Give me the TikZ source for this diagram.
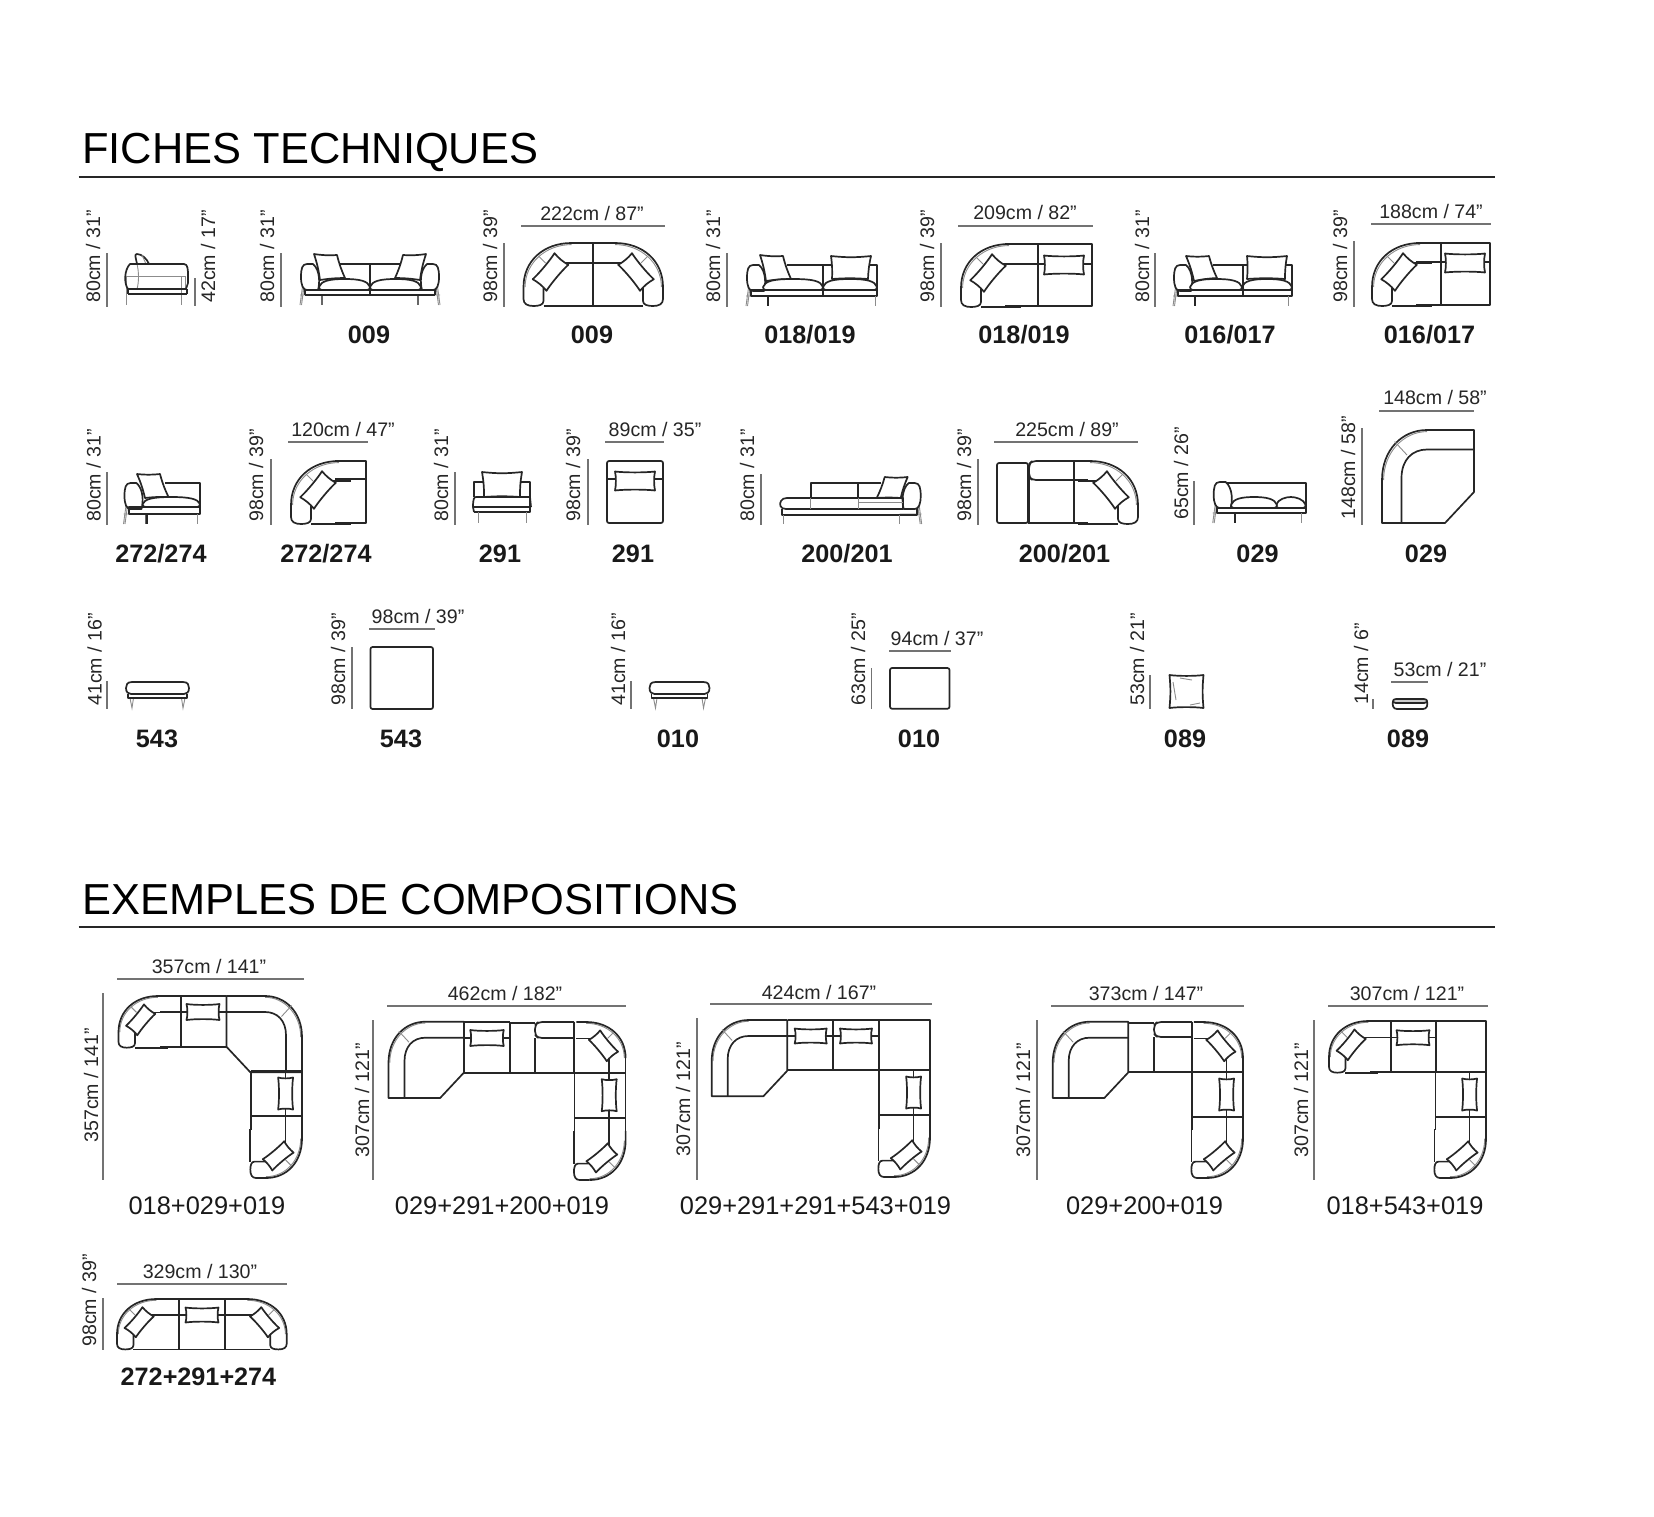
\documentclass[tikz,border=0pt]{standalone}
\usepackage{fontspec}
\setmainfont{Liberation Sans}
\usetikzlibrary{positioning}

\tikzset{
    fur/.style={draw=black!85, line width=0.85pt, line join=round},
    fine/.style={draw=black!45, line width=0.45pt},
    dimline/.style={draw=black!55, line width=0.7pt},
    headline/.style={draw=black!85, line width=1pt},
    headtext/.style={font=\fontsize{21.7}{24}\selectfont, anchor=base west, inner sep=0pt},
    dimtext/.style={font=\fontsize{9.8}{11}\selectfont, color=black!85, inner sep=0pt},
    codetext/.style={font=\fontsize{12.6}{14}\selectfont\bfseries, color=black!90, inner sep=0pt},
    comptext/.style={font=\fontsize{12.7}{14}\selectfont, color=black!90, inner sep=0pt}
}

% dimension lines with their text
\newcommand{\vdim}[7]{
    \draw[dimline] (#2,#3) -- (#2,#4);
    \node[dimtext, rotate=90, anchor=west] at (#5,#6) (#1) {#7};
}
\newcommand{\hdim}[7]{
    \draw[dimline] (#2,#4) -- (#3,#4);
    \node[dimtext] at (#5,#6) (#1) {#7};
}

% cushions
\newcommand{\pillow}[5]{
    \begin{scope}[shift={(#1,#2)}, rotate=#3]
        \pgfmathsetmacro{\pw}{#4/2}
        \pgfmathsetmacro{\ph}{#5/2}
        \pgfmathsetmacro{\pqw}{#4/4}
        \pgfmathsetmacro{\pbh}{\ph-1.2}
        \pgfmathsetmacro{\pbw}{\pw-1.2}
        \draw[fur, fill=white] (-\pw,-\ph) .. controls (-\pqw,-\pbh) and (\pqw,-\pbh) .. (\pw,-\ph)
            .. controls (\pbw,-\pqw*0.4) and (\pbw,\pqw*0.4) .. (\pw,\ph)
            .. controls (\pqw,\pbh) and (-\pqw,\pbh) .. (-\pw,\ph)
            .. controls (-\pbw,\pqw*0.4) and (-\pbw,-\pqw*0.4) .. cycle;
    \end{scope}
}
\newcommand{\quadpillow}[8]{
    \draw[fur, fill=white] (#1,#2) to[bend right=6] (#3,#4) to[bend right=5] (#5,#6)
        to[bend right=4] (#7,#8) to[bend right=5] cycle;
}
\newcommand{\seat}[4]{
    \draw[fur, fill=white] (#1,#4-3) .. controls (#1+2,#3+2) and (#1+10,#3) .. ({(#1+#2)/2},#3)
        .. controls (#2-10,#3) and (#2-2,#3+2) .. (#2,#4-3)
        .. controls (#2,#4-1) and (#2-1,#4) .. (#2-3,#4) -- (#1+3,#4)
        .. controls (#1+1,#4) and (#1,#4-1) .. cycle;
}

% plan view: rounded back corner of an arm
\newcommand{\armarc}{
    \draw[fine] (48,1.6) .. controls (22,1.6) and (1.6,20) .. (1.6,44);
    \draw[fur] (60,0) -- (48,0) .. controls (20,0) and (0,18) .. (0,44);
    \draw[fine] (15,13) -- (22,20);
    \draw[fur] (30,20) -- (60,20);
}
\newcommand{\armplan}[1]{
    \begin{scope}[#1]
        \armarc
        \draw[fur] (0,44) -- (0,56) .. controls (0,61) and (4,63) .. (10,63)
            .. controls (15,63) and (20,62) .. (20,58) -- (20,45);
        \draw[fur] (20,63) -- (60,63);
        \pillow{27}{29}{50}{34}{18}
    \end{scope}
}
\newcommand{\armjoin}[1]{
    \begin{scope}[#1]
        \armarc
        \draw[fur] (0,44) -- (0,63);
        \draw[fur] (20,45) -- (20,63);
        \pillow{27}{29}{50}{34}{18}
    \end{scope}
}
% plan view: module 029
\newcommand{\cornerplan}[1]{
    \begin{scope}[#1]
        \draw[fine] (45,1.6) .. controls (22,1.6) and (1.6,22) .. (1.6,50);
        \draw[fur] (92,0) -- (45,0) .. controls (20,0) and (0,20) .. (0,50) -- (0,93)
            -- (63,93) -- (92,62) -- cycle;
        \draw[fur] (92,19.5) -- (45,19.5) .. controls (30,19.5) and (19.5,30) .. (19.5,48) -- (19.5,93);
        \draw[fine] (12.6,11.6) -- (25,25);
    \end{scope}
}
% plan view: the part that runs down on the right of a composition
\newcommand{\returnplan}[4]{
    \draw[fur] (#1,#3) -- (#2,#3) (#1,#3) -- (#1,#4-48) (#2,#3) -- (#2,#4-48);
    \draw[fur] (#1,#3+45) -- (#2,#3+45);
    \draw[fur] (#2-16.4,#3) -- (#2-16.4,#4-48);
    \pillow{#2-16.4}{#3+22.5}{90}{32}{15}
    \armplan{shift={(#2,#4)}, rotate=-90, xscale=-0.82, yscale=0.82}
}
% front view: arm, frame and leg
\newcommand{\elevarm}[2]{
    \begin{scope}[#1]
        \draw[fine] (3,-22) -- (0,0) (4.5,-22) -- (1.5,0) (0,-10) -- (22,-10);
        \draw[draw=black!60, line width=0.6pt] (22,-10) -- (22,0);
        \draw[fur, fill=white] (7,-41) .. controls (2,-41) and (1,-36) .. (1,-28)
            .. controls (1,-20) and (3,-15) .. (7,-15) -- (18,-15)
            .. controls (20,-22) and (20,-35) .. (13,-41) -- cycle;
        #2
    \end{scope}
}
\newcommand{\tiltpillow}{\quadpillow{14}{-51}{37}{-50}{45}{-27}{20}{-25}}
\newcommand{\ottoman}[2]{
    \draw[fine] (#1+4,698) -- (#1+6,708) -- (#1+7.5,698) (#2-4,698) -- (#2-6,708) -- (#2-7.5,698);
    \draw[fur] (#1+2,694) -- (#1+2,698) -- (#2-2,698) -- (#2-2,694);
    \draw[fur, fill=white] (#1+6,682) -- (#2-6,682) .. controls (#2-1,682) and (#2,685) .. (#2,688)
        .. controls (#2,692) and (#2-2,694) .. (#2-5,694) -- (#1+5,694)
        .. controls (#1+2,694) and (#1,692) .. (#1,688) .. controls (#1,685) and (#1+1,682) .. cycle;
}

\begin{document}
\begin{tikzpicture}[x=0.5pt, y=-0.5pt]
    \useasboundingbox (0,0) rectangle (1654,1516);

    % headings
    \node[headtext] at (82,163) (fiches) {FICHES TECHNIQUES};
    \draw[headline] (78.5,177) -- (1494.5,177);
    \node[headtext] at (82,914) (exemples) {EXEMPLES DE COMPOSITIONS};
    \draw[headline] (78.5,927) -- (1494.5,927);

    % ---- first row
    \vdim{da}{107}{253}{307}{93}{303}{80cm / 31"}
    \vdim{db}{195}{278}{306}{208}{303}{42cm / 17"}
    \draw[fine] (126,276) -- (126,305) (181,276) -- (181,305) (126,276) -- (185,276) (185,276) -- (185,289);
    \draw[fur] (137,264) .. controls (136,258) and (134,254) .. (137,254) .. controls (142,254) and (147,259) .. (149,264);
    \draw[fine] (142,255) -- (146,264);
    \draw[fine] (137,264) .. controls (139,272) and (139,282) .. (137,289);
    \draw[fur] (128,289) -- (187,289) (128,294) -- (187,294) (128,289) -- (128,294) (187,289) -- (187,294);
    \draw[fur] (128,289) .. controls (124,284) and (124,270) .. (130,264) -- (184,264)
        .. controls (188,264) and (188,270) .. (188,276) -- (188,283) -- (186,289);

    \vdim{dc}{281}{253}{307}{267}{303}{80cm / 31"}
    \elevarm{shift={(300,305)}}{\tiltpillow}
    \elevarm{shift={(440,305)}, xscale=-1}{\tiltpillow}
    \draw[fur] (339,264) -- (401,264);
    \draw[fur] (305,290) -- (435,290) (305,295) -- (435,295) (305,290) -- (305,295) (435,290) -- (435,295);
    \seat{319}{370}{279}{290}
    \seat{370}{421}{279}{290}
    \draw[fur] (370,264) -- (370,295);
    \node[codetext] at (369,335) (cb) {009};

    \vdim{dd}{504}{243}{307}{490}{303}{98cm / 39"}
    \hdim{de}{521}{665}{226}{592}{213}{222cm / 87"}
    \armplan{shift={(523.5,243)}}
    \armplan{shift={(663,243)}, xscale=-1}
    \draw[fur] (583,243) -- (603,243) (583,263) -- (603,263) (583,306) -- (603,306) (593,243) -- (593,306);
    \node[codetext] at (592,335) (cc) {009};

    \vdim{df}{727}{253}{307}{713}{303}{80cm / 31"}
    \elevarm{shift={(746,306)}}{\tiltpillow}
    \draw[fur] (787,265) -- (877,265) -- (877,296) -- (751,296) -- (751,290) -- (877,290) (768,296) -- (768,306);
    \quadpillow{831}{256}{871}{256}{868}{279}{832}{279}
    \seat{763}{823}{279}{290}
    \seat{823}{877}{279}{290}
    \draw[fur] (823,265) -- (823,296);
    \draw[fine] (875,296) -- (875,306);
    \node[codetext] at (810,335) (cd) {018/019};

    \vdim{dg}{941}{243}{307}{927}{303}{98cm / 39"}
    \hdim{dh}{958}{1093}{226}{1025}{212}{209cm / 82"}
    \armplan{shift={(961,244)}}
    \draw[fur] (1005,244) -- (1092,244) -- (1092,306) -- (1005,306) (1038,244) -- (1038,306) (1005,264) -- (1092,264);
    \pillow{1064}{265}{0}{40}{19}
    \node[codetext] at (1024,335) (ce) {018/019};

    \vdim{di}{1155}{253}{307}{1142}{303}{80cm / 31"}
    \elevarm{shift={(1173,306)}}{\quadpillow{13}{-50}{36}{-50}{44}{-28}{21}{-25}}
    \draw[fur] (1213,265) -- (1292,265) -- (1292,296) -- (1178,296) -- (1178,290) -- (1292,290) (1195,296) -- (1195,306);
    \quadpillow{1247}{256}{1287}{256}{1285}{279}{1247}{279}
    \seat{1190}{1242}{279}{290}
    \seat{1242}{1292}{279}{290}
    \draw[fur] (1243,265) -- (1243,296);
    \draw[fine] (1288,296) -- (1288,306);
    \node[codetext] at (1230,335) (cf) {016/017};

    \vdim{dj}{1354}{241}{307}{1340}{303}{98cm / 39"}
    \hdim{dk}{1371}{1491}{224}{1431}{211}{188cm / 74"}
    \armplan{shift={(1372,243)}}
    \draw[fur] (1416,243) -- (1490,243) -- (1490,305) -- (1416,305) (1441,243) -- (1441,305) (1416,262) -- (1490,262);
    \pillow{1465}{263}{0}{40}{19}
    \node[codetext] at (1429.5,335) (cg) {016/017};

    % ---- second row
    \vdim{dl}{107}{472}{525}{93.5}{522}{80cm / 31"}
    \elevarm{shift={(123.5,524)}}{\quadpillow{13.5}{-50}{36.5}{-50}{45}{-27}{21.5}{-26}}
    \draw[fur] (165,483) -- (200,483) -- (200,514) -- (129,514) -- (129,507) -- (200,507) (147,514) -- (147,524);
    \seat{142.6}{200}{497}{507}
    \draw[fine] (197.5,514) -- (197.5,524);
    \node[codetext] at (161,554) (ch) {272/274};

    \vdim{dm}{271}{459}{525}{256}{522}{98cm / 39"}
    \hdim{dn}{288}{368}{442}{343}{429}{120cm / 47"}
    \armplan{shift={(291,461)}}
    \draw[fur] (335,461) -- (366,461) -- (366,523) -- (335,523) (335,479) -- (366,479);
    \node[codetext] at (326,554) (ci) {272/274};

    \vdim{do}{455}{472}{525}{441}{522}{80cm / 31"}
    \draw[fur] (474,497) -- (474,482) -- (530,482) -- (530,497);
    \quadpillow{482}{472}{522}{472}{520}{497}{484}{497}
    \draw[fur] (474,512) -- (530,512) -- (530,497) .. controls (529,497) and (526,497) .. (520,497) -- (484,497) -- (476,497) .. controls (474,497) and (473,499) .. (473,507) -- (474,512);
    \draw[fur] (473,507) -- (531,507) (531,507) -- (530,497);
    \draw[fine] (478,512) -- (478,523) (526,512) -- (526,523);
    \node[codetext] at (500,554) (cj) {291};

    \vdim{dp}{588}{459}{525}{573}{522}{98cm / 39"}
    \hdim{dq}{605}{664}{442}{655}{429}{89cm / 35"}
    \draw[fur, rounded corners=1pt] (607,461) rectangle (663,523);
    \draw[fur] (607,479) -- (663,479);
    \pillow{635}{481}{0}{40}{19}
    \node[codetext] at (633,554) (ck) {291};

    \vdim{dr}{761}{474}{525}{747}{522}{80cm / 31"}
    \elevarm{shift={(921.7,524)}, xscale=-1}{\quadpillow{14}{-47}{37}{-47}{45}{-26}{21}{-26}}
    \draw[fur] (881,483) -- (810.7,483) -- (810.7,498) (858,483) -- (858,498);
    \draw[fur] (787,498) -- (876,498) -- (903,498) -- (903,509) -- (786,509)
        .. controls (780,509) and (779,504) .. (781,501) .. controls (782,499) and (784,498) .. (787,498);
    \draw[fur] (781.7,509) -- (781.7,515) -- (916.7,515) -- (916.7,509);
    \draw[fine] (810.7,498) -- (810.7,509) (858,498) -- (858,509) (858,502.7) -- (903,502.7);
    \draw[fine] (783,515) -- (783,524) (899,515) -- (899,524);
    \node[codetext] at (847,554) (cl) {200/201};

    \vdim{ds}{978}{459}{525}{964}{522}{98cm / 39"}
    \hdim{dt}{994}{1138}{442}{1067}{429}{225cm / 89"}
    \armplan{shift={(1138,461)}, xscale=-1}
    \draw[fur, rounded corners=1pt] (997,463) rectangle (1028,523);
    \draw[fur, rounded corners=2pt] (1074,480) -- (1032,480) -- (1029,477) -- (1029,464) -- (1032,461) -- (1074,461);
    \draw[fur] (1074,461) -- (1088,461) (1074,480) -- (1088,480) (1074,461) -- (1074,523) (1028,523) -- (1088,523) (1029,477) -- (1029,523);
    \node[codetext] at (1064.5,554) (cm) {200/201};

    \vdim{du}{1194}{481}{525}{1181}{520}{65cm / 26"}
    \elevarm{shift={(1212.7,523)}}{}
    \draw[fur] (1227,483) -- (1305.7,483) -- (1305.7,513) -- (1217,513) -- (1217,508) -- (1305.7,508) (1235,513) -- (1235,523);
    \seat{1276}{1305.7}{497}{508}
    \seat{1231}{1277}{497}{508}
    \draw[fine] (1301.7,513) -- (1301.7,523);
    \node[codetext] at (1257.5,554) (cn) {029};

    \vdim{dv}{1362}{428}{525}{1348}{520}{148cm / 58"}
    \hdim{dw}{1379}{1474}{411}{1435}{397}{148cm / 58"}
    \cornerplan{shift={(1382,430)}}
    \node[codetext] at (1426,554) (co) {029};

    % ---- third row
    \vdim{dx}{107}{681}{709}{94.5}{706}{41cm / 16"}
    \ottoman{126}{189}
    \node[codetext] at (157,738.5) (cp) {543};

    \vdim{dy}{352}{647}{709}{338}{706}{98cm / 39"}
    \hdim{dz}{369}{435}{629}{418}{616}{98cm / 39"}
    \draw[fur, rounded corners=1pt] (370.5,647) rectangle (433,709);
    \node[codetext] at (401,738.5) (cq) {543};

    \vdim{ea}{631}{681}{709}{618}{706}{41cm / 16"}
    \ottoman{649.5}{709.5}
    \node[codetext] at (678,738.5) (cr) {010};

    \vdim{eb}{871.5}{668}{709}{858}{706}{63cm / 25"}
    \hdim{ec}{889}{950.5}{651}{937}{638}{94cm / 37"}
    \draw[fur, rounded corners=1pt] (890,668) rectangle (949.5,708.7);
    \node[codetext] at (919,738.5) (cs) {010};

    \vdim{ed}{1150}{675}{709}{1137}{706}{53cm / 21"}
    \pillow{1186.5}{691.5}{0}{34}{33}
    \draw[fine] (1173,682) -- (1176,700) (1190,705) -- (1200,703) (1180,678) -- (1192,680);
    \node[codetext] at (1185,738.5) (ct) {089};

    \vdim{ee}{1373}{699}{709}{1361}{705}{14cm / 6"}
    \hdim{ef}{1391}{1428}{682}{1440}{669}{53cm / 21"}
    \draw[fur, fill=black!20] (1396,699) -- (1424,699) .. controls (1428,699) and (1428,703) .. (1424,703) -- (1396,703)
        .. controls (1392,703) and (1392,699) .. cycle;
    \draw[fur] (1393,701) .. controls (1392,705) and (1393,709) .. (1397,709) -- (1423,709)
        .. controls (1427,709) and (1428,705) .. (1427,701);
    \node[codetext] at (1408,738.5) (cu) {089};

    % ---- compositions
    \hdim{fa}{117}{304}{979}{209}{966}{357cm / 141"}
    \vdim{fb}{103}{993}{1180}{91}{1143}{357cm / 141"}
    \armplan{shift={(118.5,996)}, xscale=0.82, yscale=0.82}
    \draw[fur] (160,996) -- (226,996) (160,1012) -- (226,1012) (160,1047) -- (226,1047) (181,996) -- (181,1047);
    \pillow{203}{1012}{0}{33}{16}
    \cornerplan{shift={(302,996)}, xscale=-0.82, yscale=0.82}
    \returnplan{251}{302}{1071}{1178}
    \node[comptext] at (207,1206) (ga) {018+029+019};

    \hdim{fc}{387}{626}{1006}{505}{993}{462cm / 182"}
    \vdim{fd}{373}{1020}{1180}{362}{1158}{307cm / 121"}
    \cornerplan{shift={(388.5,1021.7)}, xscale=0.82, yscale=0.82}
    \draw[fur] (464,1022) -- (510,1022) (510,1023) -- (535,1023) (464,1038) -- (510,1038) (464,1072.7) -- (575,1072.7) (510,1022) -- (510,1072.7) (535,1038) -- (535,1072.7);
    \pillow{487}{1038}{0}{33.5}{16}
    \draw[fur, rounded corners=2pt] (574,1038) -- (538,1038) -- (535,1035) -- (535,1025) -- (538,1022) -- (574,1022);
    \draw[fur] (574,1022) -- (574,1072.7);
    \armjoin{shift={(625.6,1022)}, xscale=-0.82, yscale=0.82}
    \returnplan{574.6}{625.6}{1072.7}{1180}
    \node[comptext] at (502,1206) (gb) {029+291+200+019};

    \hdim{fe}{710}{932}{1004}{819}{992}{424cm / 167"}
    \vdim{ff}{697}{1018}{1180}{683}{1157}{307cm / 121"}
    \cornerplan{shift={(711.7,1020)}, xscale=0.82, yscale=0.82}
    \draw[fur] (787.7,1020) -- (930,1020) -- (930,1070) -- (787.7,1070) (833.3,1020) -- (833.3,1070) (879.3,1020) -- (879.3,1070) (787.7,1036) -- (879.3,1036);
    \pillow{810.7}{1036}{0}{32}{15}
    \pillow{856}{1036}{0}{32}{15}
    \returnplan{879}{930}{1070}{1177}
    \node[comptext] at (815.5,1206) (gc) {029+291+291+543+019};

    \hdim{fg}{1051}{1244}{1006}{1146}{993}{373cm / 147"}
    \vdim{fh}{1037}{1020}{1180}{1023}{1158}{307cm / 121"}
    \cornerplan{shift={(1052.7,1021.7)}, xscale=0.82, yscale=0.82}
    \draw[fur] (1128,1023) -- (1154,1023) (1128,1072) -- (1243,1072) (1154,1037) -- (1154,1072);
    \draw[fur, rounded corners=2pt] (1192,1037) -- (1157,1037) -- (1154,1034) -- (1154,1025) -- (1157,1022) -- (1192,1022);
    \draw[fur] (1192,1022) -- (1192,1072);
    \armjoin{shift={(1243,1022)}, xscale=-0.82, yscale=0.82}
    \returnplan{1192}{1243}{1072}{1178}
    \node[comptext] at (1144.5,1206) (gd) {029+200+019};

    \hdim{fi}{1328}{1488}{1006}{1407}{993}{307cm / 121"}
    \vdim{fj}{1314}{1020}{1180}{1301}{1158}{307cm / 121"}
    \armplan{shift={(1329,1021)}, xscale=0.82, yscale=0.82}
    \draw[fur] (1370,1021) -- (1486,1021) -- (1486,1072) -- (1370,1072) (1391,1021) -- (1391,1072) (1436,1021) -- (1436,1072) (1370,1037.4) -- (1436,1037.4);
    \pillow{1413}{1037.7}{0}{33}{15}
    \returnplan{1435.6}{1486}{1072}{1178}
    \node[comptext] at (1405,1206) (ge) {018+543+019};

    \hdim{fk}{117}{287}{1284}{200}{1271}{329cm / 130"}
    \vdim{fl}{103}{1298}{1350}{89}{1347}{98cm / 39"}
    \armplan{shift={(117,1299)}, xscale=0.82, yscale=0.80}
    \armplan{shift={(286.7,1299)}, xscale=-0.82, yscale=0.80}
    \draw[fur] (165,1299) -- (240,1299) (165,1315) -- (240,1315) (165,1349.4) -- (240,1349.4) (179,1299) -- (179,1349.4) (225,1299) -- (225,1349.4);
    \pillow{202}{1315}{0}{33}{15}
    \node[codetext] at (198.5,1377) (gf) {272+291+274};
\end{tikzpicture}
\end{document}
